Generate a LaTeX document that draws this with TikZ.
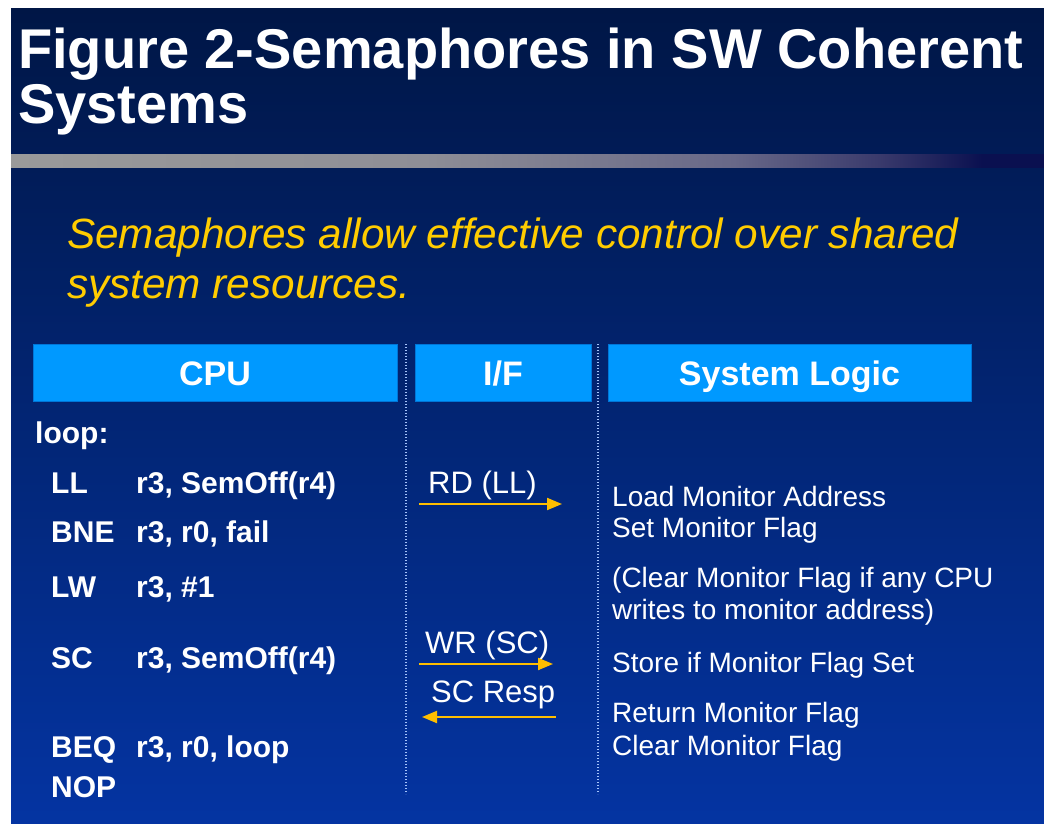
\documentclass[tikz,border=0pt]{standalone}
\usepackage{fontspec}
\setmainfont{Liberation Sans}
\usetikzlibrary{arrows.meta}

\definecolor{pageWhite}{RGB}{255,255,255}
\definecolor{slideTop}{RGB}{0,22,70}
\definecolor{slideBot}{RGB}{4,52,162}
\definecolor{headFill}{RGB}{0,153,255}
\definecolor{headEdge}{RGB}{0,118,215}
\definecolor{leadYellow}{RGB}{255,204,0}
\definecolor{sigYellow}{RGB}{255,190,0}
\definecolor{sepDots}{RGB}{165,195,250}
\definecolor{barA}{RGB}{154,154,154}
\definecolor{barB}{RGB}{142,142,150}
\definecolor{barC}{RGB}{104,104,136}
\definecolor{barD}{RGB}{58,58,108}
\definecolor{barE}{RGB}{10,16,80}

% rule under the title, fading from grey into the slide blue
% (TikZ fits the path into the 25bp--75bp band of the shading)
\pgfdeclarehorizontalshading{rulefade}{100bp}{%
  color(0bp)=(barA); color(25bp)=(barA); color(45bp)=(barB);
  color(60bp)=(barC); color(67bp)=(barD); color(72bp)=(barE);
  color(75bp)=(barE); color(100bp)=(barE)}

\newcommand\pxsize[1]{\fontsize{#1}{#1}\selectfont}

\tikzset{
  titletext/.style={anchor=base west, inner sep=0pt, text=white,
    font=\pxsize{56}\bfseries},
  leadtext/.style={anchor=base west, inner sep=0pt, text=leadYellow,
    font=\pxsize{42.3}\itshape},
  headbox/.style={rectangle, fill=headFill, draw=headEdge, line width=1pt,
    minimum height=57pt, inner sep=0pt, text=white,
    text height=25pt, text depth=0pt, font=\pxsize{34}\bfseries},
  codetext/.style={anchor=base west, inner sep=0pt, text=white,
    font=\pxsize{30}\bfseries},
  iftext/.style={anchor=base west, inner sep=0pt, text=white,
    font=\pxsize{31}},
  notetext/.style={anchor=base west, inner sep=0pt, text=white,
    font=\pxsize{28}},
  separator/.style={draw=sepDots, line width=1.4pt,
    dash pattern=on 1.4pt off 1.6pt},
  signal/.style={draw=sigYellow, line width=2pt,
    -{Triangle[length=15pt,width=12pt]}},
}

\begin{document}
\begin{tikzpicture}[x=1pt,y=-1pt]
  \useasboundingbox (0,0) rectangle (1044,824);
  \fill[pageWhite] (0,0) rectangle (1044,824);

  % slide background
  \shade[top color=slideTop, bottom color=slideBot] (11,9) rectangle (1044,824);
  \shade[shading=rulefade] (11,155) rectangle (1044,167);

  % title and lead sentence
  \node[titletext] (title1) at (18,69) {Figure 2-Semaphores in SW Coherent};
  \node[titletext] (title2) at (18,124) {Systems};
  \node[leadtext] (lead1) at (67,248) {Semaphores allow effective control over shared};
  \node[leadtext] (lead2) at (67,298) {system resources.};

  % column headers
  \node[headbox, minimum width=364pt] (cpu) at (215,372.5) {CPU};
  \node[headbox, minimum width=176pt] (iface) at (503,372.5) {I/F};
  \node[headbox, minimum width=363pt] (logic) at (789.5,372.5) {System Logic};

  % column separators
  \draw[separator] (406,344) -- (406,794);
  \draw[separator] (598,344) -- (598,794);

  % CPU instruction sequence
  \node[codetext] (lbl)   at (35,443)  {loop:};
  \node[codetext] (ll)    at (51,493)  {LL};
  \node[codetext] (llop)  at (136,493) {r3, SemOff(r4)};
  \node[codetext] (bne)   at (51,542)  {BNE};
  \node[codetext] (bneop) at (136,542) {r3, r0, fail};
  \node[codetext] (lw)    at (51,597)  {LW};
  \node[codetext] (lwop)  at (136,597) {r3, \#1};
  \node[codetext] (sc)    at (51,668)  {SC};
  \node[codetext] (scop)  at (136,668) {r3, SemOff(r4)};
  \node[codetext] (beq)   at (51,757)  {BEQ};
  \node[codetext] (beqop) at (136,757) {r3, r0, loop};
  \node[codetext] (nop)   at (51,797)  {NOP};

  % interface transactions
  \node[iftext] (rd)   at (428,493) {RD (LL)};
  \node[iftext] (wr)   at (425,653) {WR (SC)};
  \node[iftext] (resp) at (431,702) {SC Resp};

  \coordinate (rdL)   at (419,504);
  \coordinate (rdR)   at (562,504);
  \coordinate (wrL)   at (419,664);
  \coordinate (wrR)   at (553,664);
  \coordinate (respL) at (422,717);
  \coordinate (respR) at (556,717);

  \draw[signal] (rdL) -- (rdR);
  \draw[signal] (wrL) -- (wrR);
  \draw[signal] (respR) -- (respL);

  % system logic actions
  \node[notetext] (n1) at (612,506) {Load Monitor Address};
  \node[notetext] (n2) at (612,537) {Set Monitor Flag};
  \node[notetext] (n3) at (612,587) {(Clear Monitor Flag if any CPU};
  \node[notetext] (n4) at (612,619) {writes to monitor address)};
  \node[notetext] (n5) at (612,672) {Store if Monitor Flag Set};
  \node[notetext] (n6) at (612,722) {Return Monitor Flag};
  \node[notetext] (n7) at (612,755) {Clear Monitor Flag};
\end{tikzpicture}
\end{document}
